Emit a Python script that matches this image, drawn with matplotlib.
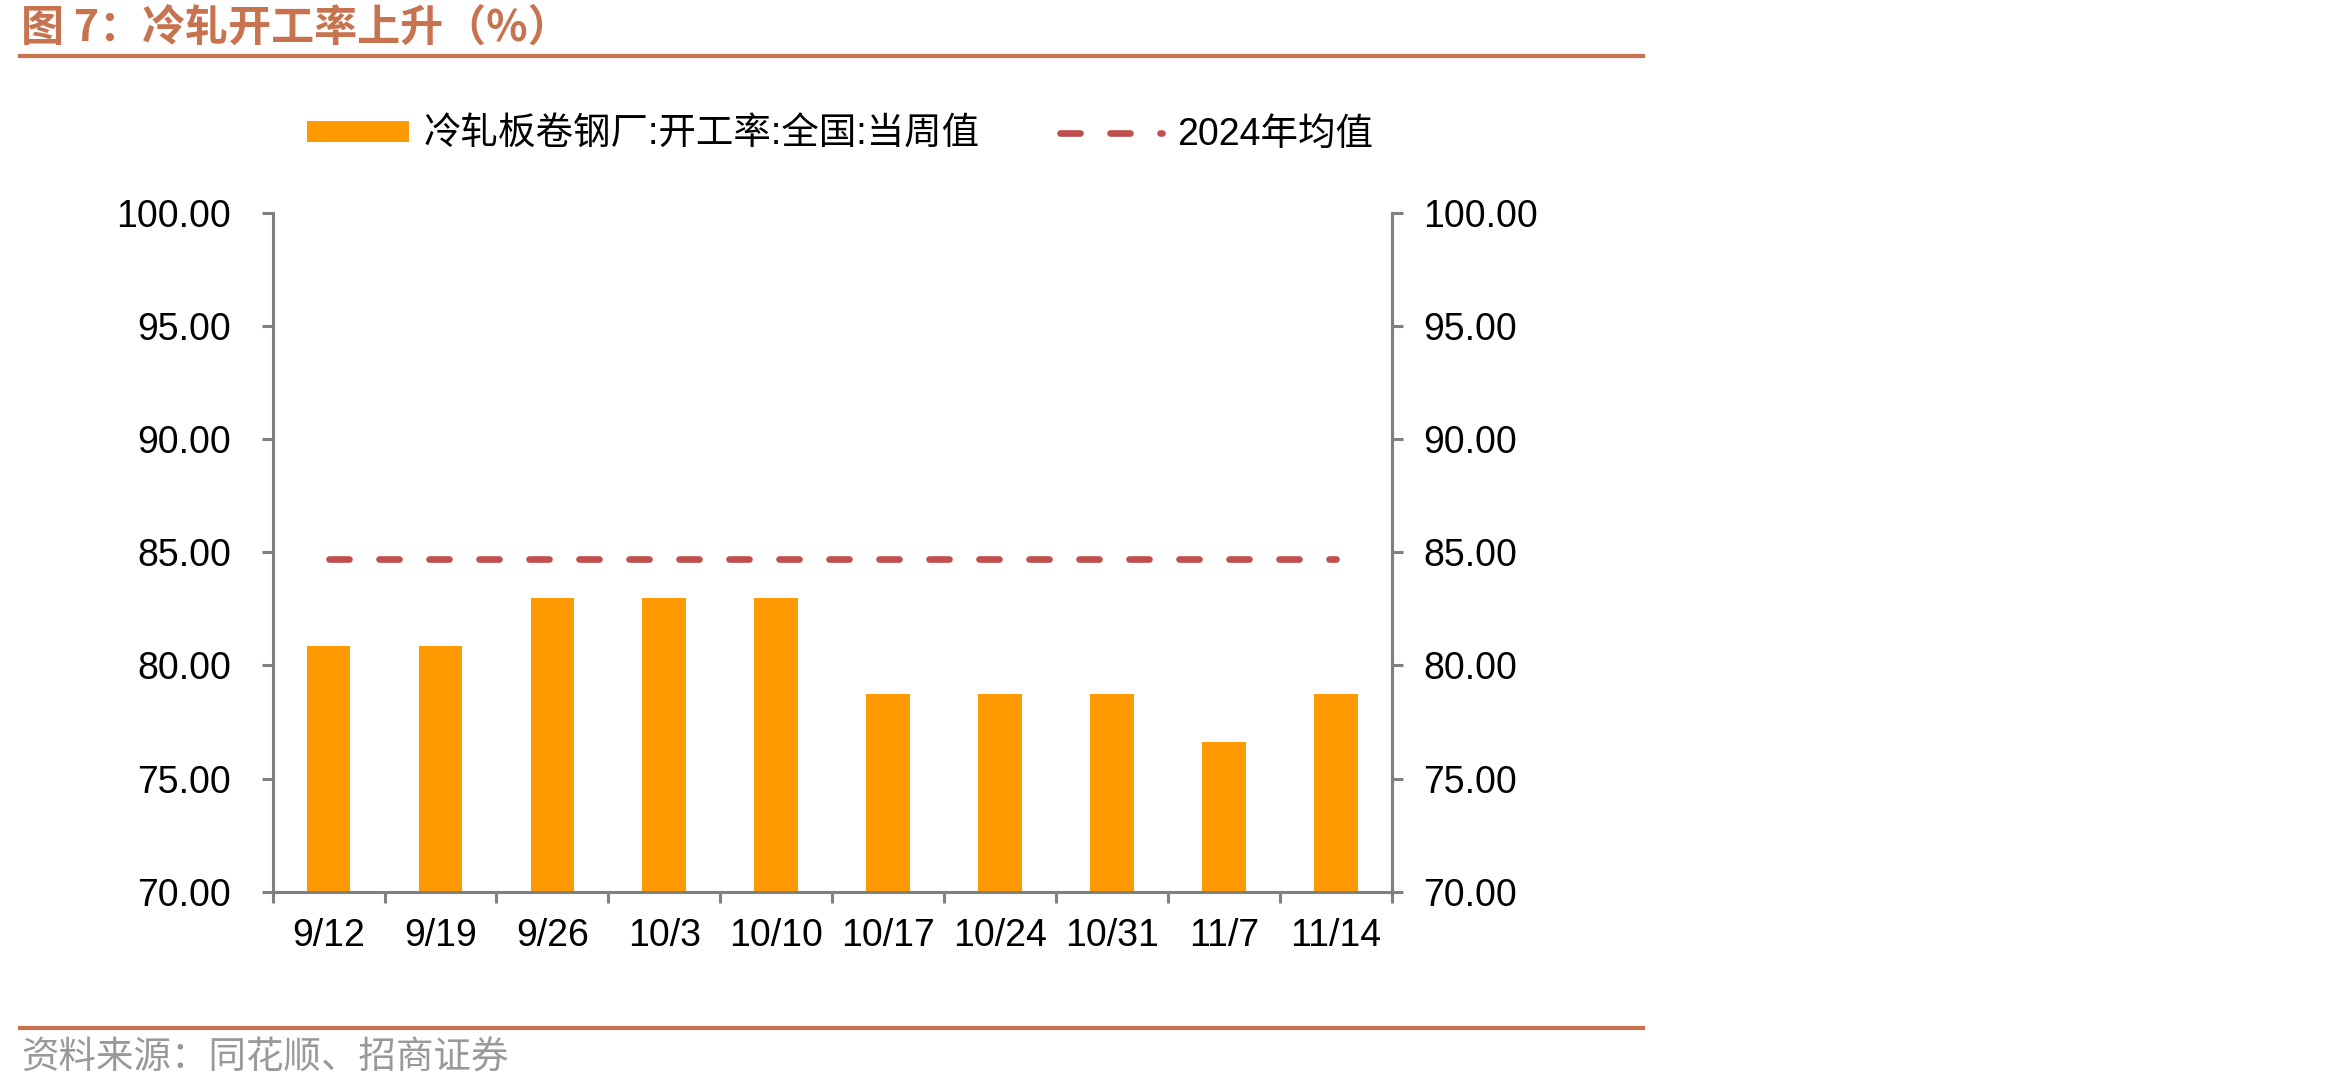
import matplotlib
matplotlib.use('Agg')
import matplotlib.pyplot as plt
from matplotlib.lines import Line2D
from matplotlib.patches import Patch

plt.rcParams['font.family'] = ['Liberation Sans', 'Noto Sans CJK SC', 'DejaVu Sans']

# data
dates = ['9/12', '9/19', '9/26', '10/3', '10/10', '10/17', '10/24', '10/31', '11/7', '11/14']
rate = [80.86, 80.86, 82.98, 82.98, 82.98, 78.73, 78.73, 78.73, 76.62, 78.73]
avg_2024 = 84.69

bar_color = '#FF9900'
line_color = '#C0504D'
brown = '#C8734F'
axis_gray = '#808080'

fig = plt.figure(figsize=(23.5, 10.88), dpi=100)
ax = fig.add_axes([0.116, 0.1804, 0.4762, 0.6238])

x = range(len(dates))
ax.bar(x, rate, width=0.39, color=bar_color, zorder=2)
ax.plot([0, len(dates) - 1], [avg_2024, avg_2024], color=line_color, linewidth=4.8,
        dashes=(3, 4.5), dash_capstyle='round', zorder=3)

ax.set_xlim(-0.5, len(dates) - 0.5)
ax.set_ylim(70, 100)
ax.set_yticks([70, 75, 80, 85, 90, 95, 100])
ax.yaxis.set_major_formatter(matplotlib.ticker.FormatStrFormatter('%.2f'))
ax.set_xticks([i - 0.5 for i in range(len(dates) + 1)])
ax.set_xticklabels([])
ax.set_xticks(list(x), minor=True)
ax.set_xticklabels(dates, minor=True)
ax.tick_params(axis='x', which='minor', length=0, pad=19, labelsize=27)
ax.tick_params(axis='x', which='major', length=8, width=2.2, color=axis_gray, direction='out')
ax.tick_params(axis='y', length=8, width=2.2, color=axis_gray, labelsize=27, pad=22)

ax.spines['top'].set_visible(False)
for s in ['left', 'right', 'bottom']:
    ax.spines[s].set_color(axis_gray)
    ax.spines[s].set_linewidth(2.2)

ax2 = ax.twinx()
ax2.set_ylim(70, 100)
ax2.set_yticks([70, 75, 80, 85, 90, 95, 100])
ax2.yaxis.set_major_formatter(matplotlib.ticker.FormatStrFormatter('%.2f'))
ax2.tick_params(axis='y', length=8, width=2.2, color=axis_gray, labelsize=27, pad=15)
for s in ['top', 'left', 'bottom']:
    ax2.spines[s].set_visible(False)
ax2.spines['right'].set_color(axis_gray)
ax2.spines['right'].set_linewidth(2.2)

# legend
handles = [Patch(facecolor=bar_color, edgecolor='none'),
           Line2D([0], [0], color=line_color, linewidth=4.8, dashes=(3, 4.5),
                  dash_capstyle='round')]
labels = ['冷轧板卷钢厂:开工率:全国:当周值', '2024年均值']
fig.legend(handles, labels, loc='center left', bbox_to_anchor=(0.1305, 0.876), ncol=2,
           frameon=False, fontsize=27, handlelength=2.72, handleheight=0.48,
           handletextpad=0.4, columnspacing=2.15, borderaxespad=0, borderpad=0)

# title, rules and source
fig.text(0.009, 0.975, '图 7：冷轧开工率上升（%）', color=brown, fontsize=31,
         fontweight='bold', va='center', ha='left',
         family=['Noto Sans CJK SC', 'DejaVu Sans'])
fig.add_artist(Line2D([0.0085, 0.699], [1 - 56 / 1088] * 2, color=brown, linewidth=3))
fig.add_artist(Line2D([0.0085, 0.699], [1 - 1028 / 1088] * 2, color=brown, linewidth=3))
fig.text(0.009, 1 - 1058 / 1088, '资料来源：同花顺、招商证券', color='#999999', fontsize=27,
         va='center', ha='left', family=['Noto Sans CJK SC', 'DejaVu Sans'])

fig.savefig('out.png', dpi=100)
